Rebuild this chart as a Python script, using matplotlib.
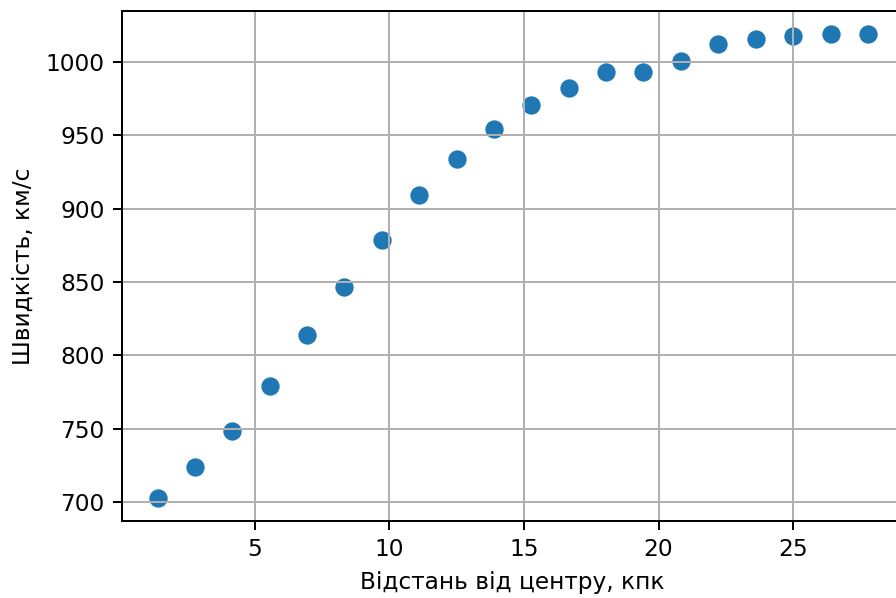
import matplotlib
matplotlib.use("Agg")
from matplotlib import pyplot as plt

# distance from centre, kpc
distance = [1.39, 2.78, 4.17, 5.56, 6.94, 8.33, 9.72, 11.11, 12.5, 13.89,
            15.28, 16.67, 18.06, 19.44, 20.83, 22.22, 23.61, 25.0, 26.39, 27.78]
# rotation velocity, km/s
velocity = [703, 724, 748.6, 778.9, 814.3, 846.5, 879, 909.6, 934, 954.4,
            970.6, 982.6, 993.2, 993.2, 1001, 1012.6, 1016, 1017.6, 1019, 1019]

x_label = "Відстань від центру, кпк"
y_label = "Швидкість, км/с"

plt.rcParams["font.size"] = 9.3

fig = plt.figure(figsize=(896 / 180, 598 / 180), dpi=180)
ax = fig.add_axes([122 / 896, 77 / 598, 781.5 / 896, 510 / 598])

ax.scatter(distance, velocity, s=40)
ax.set_xlabel(x_label)
ax.set_ylabel(y_label)
ax.grid(True)

fig.savefig("out.png", dpi=180)
